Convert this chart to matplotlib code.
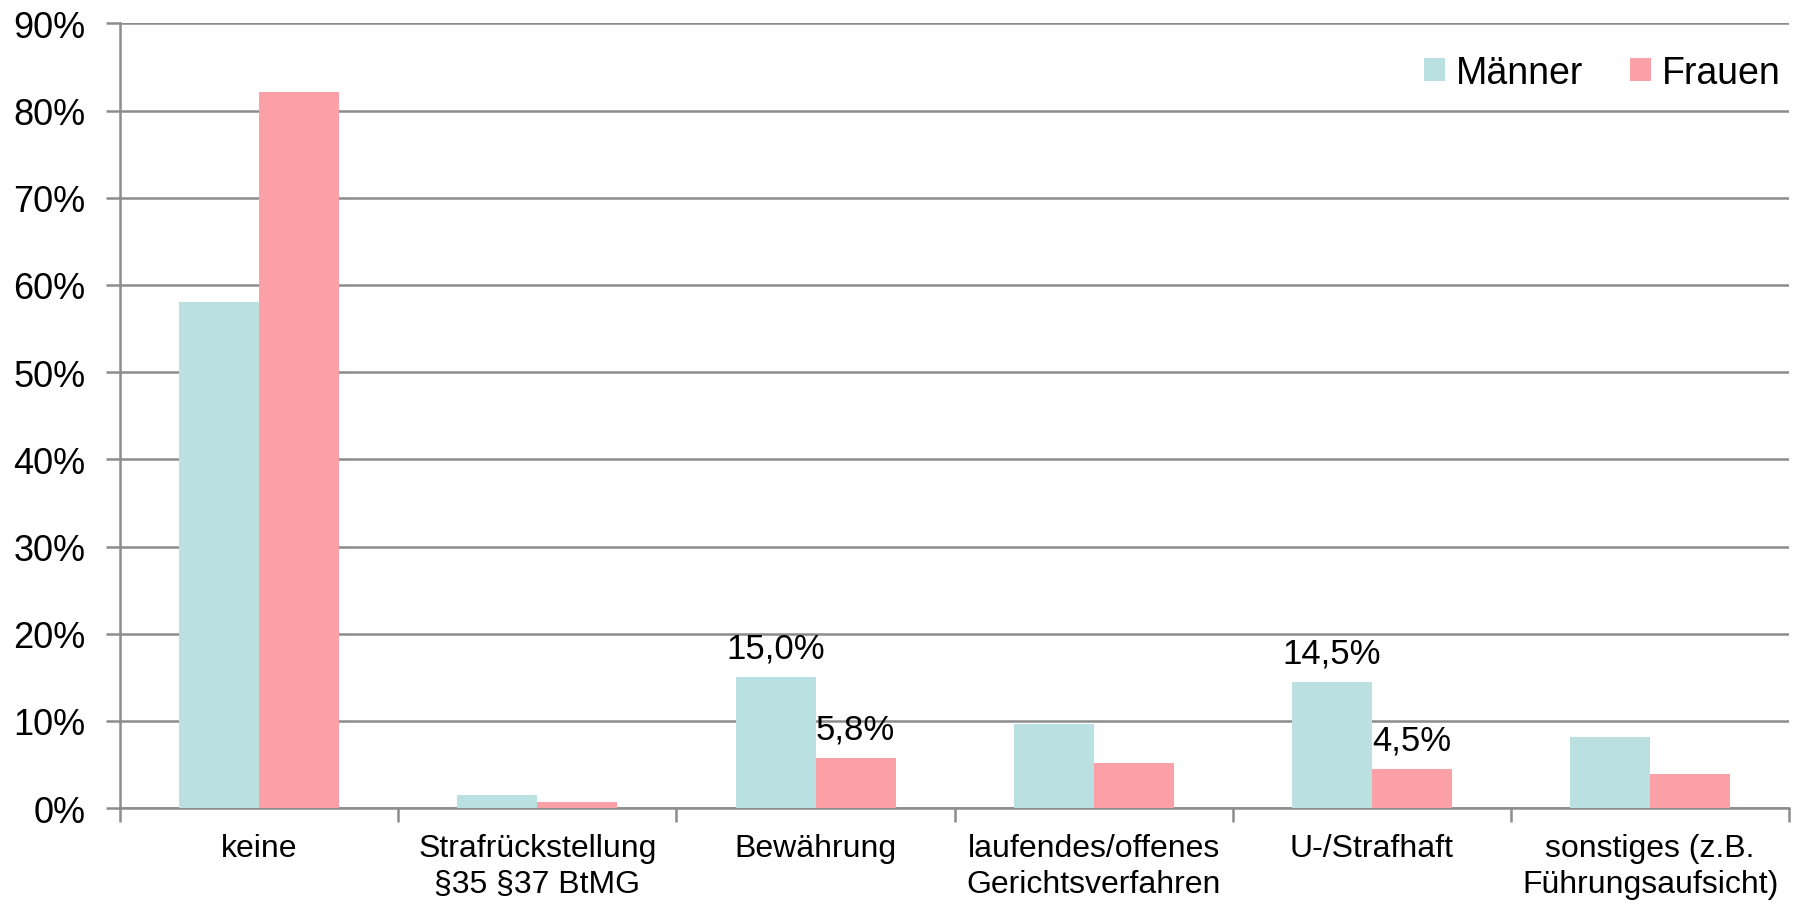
import numpy as np
import matplotlib.pyplot as plt
from matplotlib.ticker import PercentFormatter

plt.rcParams['font.family'] = ['Liberation Sans', 'DejaVu Sans']

categories = ["keine", "Strafrückstellung\n§35 §37 BtMG", "Bewährung",
              "laufendes/offenes\nGerichtsverfahren", "U-/Strafhaft",
              "sonstiges (z.B.\nFührungsaufsicht)"]
maenner = [58.1, 1.5, 15.0, 9.6, 14.5, 8.1]
frauen = [82.1, 0.7, 5.8, 5.2, 4.5, 3.9]
# only some bars carry a value label
labelledMaenner = [2, 4]
labelledFrauen = [2, 4]

colorMaenner = "#BAE0E2"
colorFrauen = "#FCA0A8"
gridColor = "#8C8C8C"

fig = plt.figure(figsize=(18, 9.03), dpi=100)
ax = fig.add_axes([0.0667, 0.104, 0.9273, 0.869])

x = np.arange(len(categories))
barWidth = 0.2875
ax.bar(x - barWidth/2, maenner, barWidth, color=colorMaenner, label="Männer", zorder=3)
ax.bar(x + barWidth/2, frauen, barWidth, color=colorFrauen, label="Frauen", zorder=3)

def fmt(v):
    return f"{v:.1f}%".replace(".", ",")

for i in labelledMaenner:
    ax.annotate(fmt(maenner[i]), (x[i] - barWidth/2, maenner[i]), xytext=(0, 9),
                textcoords="offset points", ha="center", va="bottom", fontsize=25)
for i in labelledFrauen:
    ax.annotate(fmt(frauen[i]), (x[i] + barWidth/2, frauen[i]), xytext=(0, 9),
                textcoords="offset points", ha="center", va="bottom", fontsize=25)

ax.set_xlim(-0.5, len(categories) - 0.5)
ax.set_ylim(0, 90)
ax.set_yticks(np.arange(0, 91, 10))
ax.yaxis.set_major_formatter(PercentFormatter(decimals=0))
ax.grid(axis="y", color=gridColor, linewidth=1.8, zorder=0)

ax.set_xticks(x)
ax.set_xticklabels(categories, fontsize=23, linespacing=1.25)
ax.set_xticks(np.arange(-0.5, len(categories), 1), minor=True)
ax.tick_params(axis="x", which="major", length=0, pad=18)
ax.tick_params(axis="x", which="minor", length=10, width=1.8, color=gridColor)
ax.tick_params(axis="y", length=10, width=1.8, color=gridColor, labelsize=26, pad=15)

for side in ["top", "right"]:
    ax.spines[side].set_visible(False)
for side in ["left", "bottom"]:
    ax.spines[side].set_color(gridColor)
    ax.spines[side].set_linewidth(1.8)

ax.legend(loc="upper right", ncol=2, frameon=False, fontsize=27,
          handlelength=0.55, handleheight=0.55, handletextpad=0.3,
          columnspacing=1.25, borderaxespad=0.0, bbox_to_anchor=(1.004, 0.979))

fig.savefig("out.png", dpi=100)
